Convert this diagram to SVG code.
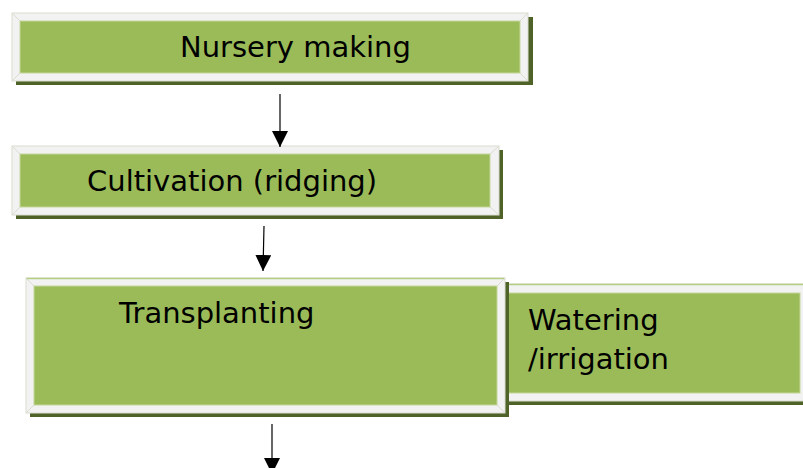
<svg xmlns="http://www.w3.org/2000/svg" width="803" height="468" viewBox="0 0 803 468">
<style>
.shadow{fill:#4f6228}
.frame{fill:#f2f2f2;stroke:#d9dccf;stroke-width:1}
.inner{fill:#9bbb59;stroke:#c3d69b;stroke-width:1}
.bevel{stroke:#dcdcd0;stroke-width:1}
.topline{stroke:#b5cd85;stroke-width:1.5}
.lbl{font-family:"DejaVu Sans",sans-serif;font-size:29px;fill:#000}
.conn{stroke:#000;stroke-width:1.2;fill:none}
</style>
<defs>
<marker id="ah" markerWidth="16" markerHeight="16" refX="16" refY="8" orient="auto" markerUnits="userSpaceOnUse">
<path d="M0,0 L16,8 L0,16 Z" fill="#000"/>
</marker>
</defs>
<rect width="803" height="468" fill="#fff"/>
<g id="node-watering">
<rect class="shadow" x="504" y="288" width="310" height="117"/>
<rect class="frame" x="500" y="284" width="308" height="117"/>
<line class="topline" x1="500" y1="284.5" x2="808" y2="284.5"/>
<rect class="inner" x="508" y="293" width="292" height="100"/>
<text class="lbl" x="528" y="330">Watering</text>
<text class="lbl" x="528" y="369">/irrigation</text>
</g>
<g id="node-nursery">
<rect class="shadow" x="16" y="17" width="517" height="68"/>
<rect class="frame" x="12" y="13" width="516" height="68"/>
<line class="bevel" x1="12" y1="13" x2="20" y2="21"/>
<line class="bevel" x1="528" y1="13" x2="520" y2="21"/>
<line class="bevel" x1="12" y1="81" x2="20" y2="73"/>
<line class="bevel" x1="528" y1="81" x2="520" y2="73"/>
<rect class="inner" x="20" y="21" width="500" height="52"/>
<text class="lbl" x="180" y="57">Nursery making</text>
</g>
<g id="node-cultivation">
<rect class="shadow" x="16" y="150" width="487" height="69"/>
<rect class="frame" x="12" y="146" width="487" height="69"/>
<line class="bevel" x1="12" y1="146" x2="20" y2="154"/>
<line class="bevel" x1="499" y1="146" x2="490" y2="154"/>
<line class="bevel" x1="12" y1="215" x2="20" y2="207"/>
<line class="bevel" x1="499" y1="215" x2="490" y2="207"/>
<rect class="inner" x="20" y="154" width="470" height="53"/>
<text class="lbl" x="87" y="191">Cultivation (ridging)</text>
</g>
<g id="node-transplanting">
<rect class="shadow" x="30" y="282" width="479" height="135"/>
<rect class="frame" x="26" y="278" width="479" height="135"/>
<line class="topline" x1="26" y1="278.5" x2="505" y2="278.5"/>
<line class="bevel" x1="26" y1="278" x2="34" y2="286"/>
<line class="bevel" x1="505" y1="278" x2="497" y2="286"/>
<line class="bevel" x1="26" y1="413" x2="34" y2="405"/>
<line class="bevel" x1="505" y1="413" x2="497" y2="405"/>
<rect class="inner" x="34" y="286" width="463" height="119"/>
<text class="lbl" x="119" y="323">Transplanting</text>
</g>
<g id="connectors">
<line class="conn" x1="280" y1="94" x2="280" y2="147" marker-end="url(#ah)"/>
<line class="conn" x1="264" y1="226" x2="263" y2="271" marker-end="url(#ah)"/>
<line class="conn" x1="272" y1="424" x2="272" y2="474" marker-end="url(#ah)"/>
</g>
</svg>
